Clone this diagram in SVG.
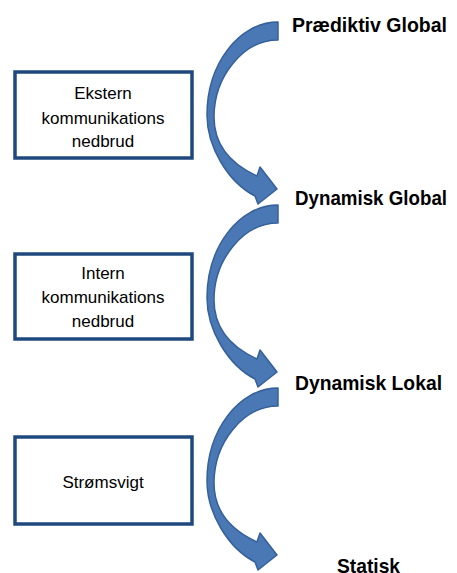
<svg xmlns="http://www.w3.org/2000/svg" width="457" height="573" viewBox="0 0 457 573">
<style>
.box{fill:#ffffff;stroke:#1f497d;stroke-width:3.5}
.bt{font-family:"Liberation Sans",Arial,sans-serif;font-size:17px;fill:#000;text-anchor:middle}
.lbl{font-family:"Liberation Sans",Arial,sans-serif;font-size:21px;font-weight:bold;fill:#000}
.arr{fill:#4a78b4;stroke:#36609a;stroke-width:1.5;stroke-linejoin:round}
</style>
<defs>
<path id="carrow" class="arr" d="M0,0 C-39,0 -71,42 -71,93 C-71,125 -50,160 -23,174 L-20,182 L-1,167 L-18,145 L-21,154 C-45,143 -64,125 -64,95 C-64,55 -35,18 0,18 Z"/>
</defs>
<rect width="457" height="573" fill="#ffffff"/>
<g id="connectors">
<use href="#carrow" transform="translate(278,22)"/>
<use href="#carrow" transform="translate(278,205)"/>
<use href="#carrow" transform="translate(278,388)"/>
</g>
<g id="box1">
<rect class="box" x="15" y="72" width="177" height="86"/>
<text class="bt" x="103" y="99">Ekstern</text>
<text class="bt" x="103" y="124">kommunikations</text>
<text class="bt" x="103" y="147">nedbrud</text>
</g>
<g id="box2">
<rect class="box" x="15" y="254" width="177" height="85"/>
<text class="bt" x="103" y="279">Intern</text>
<text class="bt" x="103" y="303">kommunikations</text>
<text class="bt" x="103" y="327">nedbrud</text>
</g>
<g id="box3">
<rect class="box" x="15" y="437" width="177" height="87"/>
<text class="bt" x="103" y="488">Strømsvigt</text>
</g>
<g id="n1"><text class="lbl" x="292" y="32" textLength="155" lengthAdjust="spacingAndGlyphs">Prædiktiv Global</text></g>
<g id="n2"><text class="lbl" x="295" y="205" textLength="152" lengthAdjust="spacingAndGlyphs">Dynamisk Global</text></g>
<g id="n3"><text class="lbl" x="295" y="390" textLength="147" lengthAdjust="spacingAndGlyphs">Dynamisk Lokal</text></g>
<g id="n4"><text class="lbl" x="337" y="573" textLength="63" lengthAdjust="spacingAndGlyphs">Statisk</text></g>
</svg>
